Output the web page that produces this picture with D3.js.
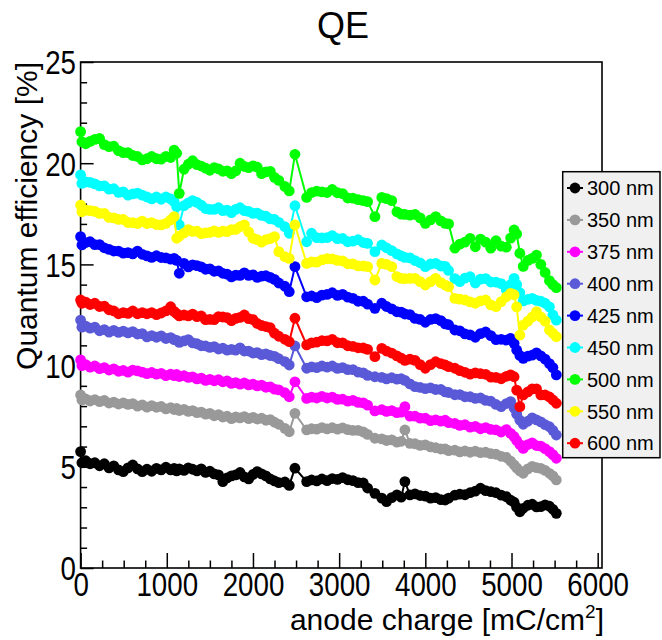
<!DOCTYPE html>
<html>
<head>
<meta charset="utf-8">
<script src="https://cdn.jsdelivr.net/npm/d3@7"></script>
<style>
  html, body { margin: 0; padding: 0; background: #fff; }
  svg text { font-family: "Liberation Sans", Arial, Helvetica, sans-serif; fill: #000; }
</style>
</head>
<body>
<svg id="chart" width="662" height="640"></svg>
<script>
// Quantum efficiency versus integrated anode charge, one series per wavelength.
const wavelengths = ["300 nm", "350 nm", "375 nm", "400 nm", "425 nm", "450 nm", "500 nm", "550 nm", "600 nm"];
const colors = ["#000000", "#999999", "#ff00ff", "#5a5ad8", "#0000ff", "#00ffff", "#00ff00", "#ffff00", "#ff0000"];

// anode charge (mC/cm^2) at each measurement
const charge = [0, 15, 60, 110, 165, 220, 275, 330, 385, 440,
  495, 550, 605, 660, 715, 770, 825, 880, 935, 990,
  1045, 1085, 1115, 1145, 1200, 1250, 1300, 1350, 1400, 1450,
  1500, 1550, 1600, 1650, 1700, 1750, 1800, 1850, 1900, 1950,
  2000, 2050, 2100, 2150, 2200, 2250, 2300, 2370, 2421, 2487,
  2623, 2680, 2740, 2800, 2860, 2920, 2980, 3040, 3100, 3160,
  3220, 3280, 3330, 3415, 3495, 3550, 3610, 3670, 3720, 3763,
  3821, 3880, 3940, 4000, 4060, 4120, 4180, 4230, 4270, 4343,
  4400, 4460, 4520, 4580, 4640, 4700, 4760, 4820, 4880, 4940,
  4990, 5030, 5060, 5097, 5136, 5190, 5240, 5290, 5340, 5390,
  5440, 5480, 5520];

// quantum efficiency (%) per wavelength
const qe300 = [5.75, 5.2, 5.3, 5.15, 5.2, 5.05, 5.15, 4.95, 5.05, 4.85,
  4.76, 4.95, 5.09, 4.9, 4.76, 4.88, 4.78, 4.92, 4.85, 4.98,
  4.85, 4.92, 4.8, 4.9, 4.82, 4.95, 4.88, 4.8, 4.9, 4.72,
  4.78, 4.65, 4.6, 4.27, 4.45, 4.55, 4.6, 4.72, 4.5, 4.4,
  4.62, 4.76, 4.65, 4.55, 4.4, 4.3, 4.22, 4.25, 4.08, 4.93,
  4.27, 4.35, 4.3, 4.4, 4.32, 4.42, 4.38, 4.47, 4.36, 4.32,
  4.22, 4.2, 3.95, 3.69, 3.45, 3.28, 3.48, 3.61, 3.5, 4.27,
  3.61, 3.66, 3.58, 3.55, 3.45, 3.48, 3.38, 3.36, 3.45, 3.6,
  3.65, 3.62, 3.72, 3.8, 3.94, 3.82, 3.77, 3.72, 3.6, 3.52,
  3.35, 3.25, 3.0, 2.78, 2.95, 3.1, 3.15, 3.02, 3.03, 3.12,
  3.05, 2.9, 2.7];
const qe350 = [8.55, 8.3, 8.35, 8.25, 8.32, 8.22, 8.28, 8.15, 8.2, 8.1,
  8.16, 8.08, 8.12, 8.0, 8.06, 7.95, 8.02, 7.94, 7.98, 7.86,
  7.92, 7.83, 7.88, 7.78, 7.84, 7.74, 7.78, 7.68, 7.7, 7.6,
  7.64, 7.52, 7.58, 7.46, 7.5, 7.38, 7.46, 7.42, 7.48, 7.38,
  7.44, 7.36, 7.4, 7.3, 7.33, 7.2, 7.1, 6.9, 6.73, 7.64,
  6.82, 6.88, 6.86, 6.94, 6.87, 6.93, 6.86, 6.92, 6.84, 6.8,
  6.8, 6.72, 6.6, 6.41, 6.38, 6.3, 6.33, 6.22, 6.26, 6.82,
  6.16, 6.14, 6.06, 6.08, 5.98, 5.94, 5.88, 5.88, 5.8, 5.82,
  5.74, 5.78, 5.72, 5.77, 5.7, 5.72, 5.65, 5.62, 5.52, 5.46,
  5.28, 5.1, 4.95, 4.8, 4.68, 4.9, 5.02, 4.96, 4.92, 4.82,
  4.68, 4.55, 4.35];
const qe375 = [10.28, 10.0, 10.05, 9.92, 9.98, 9.85, 9.9, 9.78, 9.84, 9.72,
  9.76, 9.68, 9.78, 9.74, 9.68, 9.6, 9.66, 9.58, 9.62, 9.5,
  9.58, 9.5, 9.56, 9.46, 9.5, 9.42, 9.44, 9.34, 9.38, 9.27,
  9.32, 9.25, 9.3, 9.2, 9.24, 9.12, 9.16, 9.08, 9.14, 9.05,
  9.08, 9.0, 9.04, 8.93, 8.95, 8.84, 8.8, 8.66, 8.46, 9.2,
  8.38, 8.44, 8.4, 8.48, 8.4, 8.44, 8.33, 8.34, 8.24, 8.28,
  8.18, 8.16, 8.05, 7.76, 7.82, 7.74, 7.78, 7.68, 7.7, 7.97,
  7.5, 7.5, 7.4, 7.4, 7.28, 7.32, 7.26, 7.3, 7.18, 7.14,
  7.05, 7.08, 6.96, 7.0, 6.88, 6.94, 6.85, 6.82, 6.72, 6.84,
  6.65, 6.49, 6.3, 6.1, 5.91, 6.1, 6.18, 6.05, 6.02, 5.9,
  5.75, 5.6, 5.42];
const qe400 = [12.25, 11.9, 11.95, 11.85, 11.9, 11.72, 11.78, 11.65, 11.74, 11.64,
  11.7, 11.62, 11.68, 11.56, 11.58, 11.42, 11.48, 11.4, 11.47, 11.34,
  11.38, 11.28, 11.25, 11.15, 11.22, 11.28, 11.12, 11.08, 10.98, 10.97,
  10.9, 10.94, 10.82, 10.86, 10.76, 10.8, 10.76, 10.88, 10.72, 10.72,
  10.62, 10.64, 10.54, 10.58, 10.5, 10.46, 10.34, 10.2, 10.03, 10.97,
  9.87, 9.94, 9.9, 9.98, 9.92, 9.98, 9.86, 9.9, 9.8, 9.8,
  9.68, 9.64, 9.52, 9.45, 9.42, 9.34, 9.4, 9.33, 9.35, 9.27,
  9.1, 8.96, 8.92, 8.86, 8.9, 8.82, 8.82, 8.7, 8.67, 8.56,
  8.57, 8.46, 8.46, 8.38, 8.4, 8.28, 8.24, 8.08, 7.97, 8.12,
  8.22, 7.9, 7.6, 7.3, 7.1, 7.25, 7.42, 7.32, 7.22, 7.08,
  6.98, 6.8, 6.57];
const qe425 = [16.37, 15.96, 16.08, 16.12, 15.98, 15.98, 15.82, 15.74, 15.66, 15.66,
  15.56, 15.58, 15.52, 15.66, 15.5, 15.42, 15.35, 15.43, 15.34, 15.32,
  15.26, 15.3, 15.2, 14.56, 15.05, 14.88, 14.98, 14.94, 14.88, 14.76,
  14.78, 14.66, 14.68, 14.56, 14.52, 14.38, 14.47, 14.46, 14.58, 14.46,
  14.48, 14.36, 14.42, 14.44, 14.36, 14.26, 14.08, 13.92, 13.65, 14.89,
  13.4, 13.44, 13.36, 13.48, 13.52, 13.6, 13.47, 13.52, 13.38, 13.32,
  13.18, 13.18, 13.04, 12.83, 13.08, 12.92, 12.8, 12.66, 12.64, 12.55,
  12.52, 12.33, 12.28, 12.14, 12.28, 12.32, 12.22, 12.06, 12.02, 11.76,
  11.72, 11.57, 11.52, 11.4, 11.58, 11.66, 11.48, 11.28, 11.3, 11.26,
  11.35, 11.1, 10.77, 10.5, 10.36, 10.47, 10.52, 10.63, 10.48, 10.32,
  10.1, 9.9, 9.54];
const qe450 = [19.42, 19.0, 19.08, 19.05, 18.98, 18.88, 18.88, 18.72, 18.74, 18.56,
  18.58, 18.42, 18.48, 18.52, 18.42, 18.33, 18.24, 18.33, 18.22, 18.33,
  18.24, 18.1, 17.85, 16.95, 17.9, 18.04, 18.15, 18.06, 17.93, 17.76,
  17.72, 17.72, 17.8, 17.66, 17.68, 17.56, 17.72, 17.8, 17.66, 17.62,
  17.52, 17.53, 17.42, 17.38, 17.25, 17.22, 17.08, 16.86, 16.54, 17.9,
  16.12, 16.54, 16.32, 16.31, 16.32, 16.42, 16.27, 16.28, 16.12, 16.15,
  16.22, 16.08, 16.04, 15.63, 15.96, 15.82, 15.68, 15.52, 15.42, 15.35,
  15.32, 15.19, 15.08, 14.89, 15.02, 15.05, 14.92, 14.9, 14.7, 14.3,
  14.15, 14.32, 14.39, 14.08, 14.27, 14.3, 14.13, 14.12, 14.05, 13.74,
  14.0, 14.31, 14.0, 13.6, 13.2, 13.27, 13.32, 13.22, 13.18, 13.08,
  12.9, 12.5, 12.25];
const qe500 = [21.56, 21.06, 20.96, 21.08, 21.18, 21.22, 20.92, 20.82, 20.84, 20.62,
  20.52, 20.52, 20.38, 20.33, 20.16, 20.22, 20.33, 20.22, 20.2, 20.34,
  20.28, 20.65, 20.49, 18.51, 19.7, 19.95, 20.12, 19.93, 19.86, 19.76,
  19.65, 19.78, 19.72, 19.6, 19.62, 19.48, 19.62, 20.0, 19.84, 19.78,
  19.87, 19.8, 19.48, 19.57, 19.6, 19.3, 19.15, 18.85, 18.63, 20.44,
  18.31, 18.55, 18.62, 18.58, 18.55, 18.7, 18.54, 18.5, 18.28, 18.27,
  18.2, 18.15, 18.1, 17.36, 18.31, 18.25, 18.15, 17.6, 17.48, 17.47,
  17.43, 17.47, 17.3, 17.03, 17.2, 17.36, 17.15, 17.03, 17.0, 15.8,
  16.0, 16.1, 16.29, 15.87, 16.25, 16.1, 15.8, 16.17, 15.9, 15.85,
  16.3, 16.7, 16.5, 15.55, 14.9, 15.2, 15.3, 15.46, 15.0, 14.6,
  14.2, 14.0, 13.85];
const qe550 = [17.93, 17.6, 17.68, 17.66, 17.62, 17.52, 17.52, 17.32, 17.3, 17.22,
  17.22, 17.07, 17.06, 17.02, 17.14, 17.02, 17.06, 16.97, 16.95, 17.03,
  17.2, 17.36, 16.29, 16.4, 16.55, 16.72, 16.63, 16.64, 16.52, 16.56,
  16.58, 16.65, 16.58, 16.64, 16.62, 16.72, 16.73, 16.86, 16.95, 16.6,
  16.29, 16.22, 16.1, 16.22, 16.27, 16.37, 15.63, 15.38, 15.3, 16.95,
  15.05, 15.12, 15.11, 15.22, 15.28, 15.27, 15.2, 15.17, 15.03, 15.02,
  14.93, 14.92, 14.89, 14.23, 15.05, 15.0, 14.89, 14.4, 14.31, 14.3,
  14.31, 14.31, 14.15, 13.98, 14.15, 14.31, 14.1, 13.98, 13.9, 13.32,
  13.28, 13.24, 13.15, 13.08, 13.2, 13.24, 13.0, 12.91, 13.16, 13.4,
  13.57, 13.5, 12.9, 11.51, 12.0, 12.2, 12.4, 12.66, 12.4, 12.2,
  11.76, 11.6, 11.43];
const qe600 = [13.24, 13.08, 13.14, 13.02, 13.08, 12.92, 12.94, 12.76, 12.7, 12.56,
  12.62, 12.58, 12.7, 12.56, 12.62, 12.56, 12.62, 12.52, 12.6, 12.7,
  12.91, 12.68, 12.57, 12.46, 12.5, 12.46, 12.54, 12.42, 12.45, 12.27,
  12.28, 12.27, 12.42, 12.4, 12.37, 12.22, 12.33, 12.38, 12.5, 12.32,
  12.27, 12.08, 11.98, 11.93, 11.87, 11.6, 11.45, 11.3, 11.18, 12.34,
  11.02, 11.12, 11.16, 11.23, 11.22, 11.3, 11.13, 11.12, 10.98, 10.95,
  10.88, 10.87, 10.8, 10.44, 10.85, 10.72, 10.62, 10.48, 10.37, 10.26,
  10.32, 10.26, 10.05, 9.87, 10.05, 10.19, 10.1, 10.03, 9.95, 9.87,
  9.75, 9.67, 9.58, 9.64, 9.6, 9.57, 9.43, 9.42, 9.35, 9.47,
  9.54, 9.45, 8.79, 7.97, 8.55, 8.7, 8.85, 8.85, 8.55, 8.55,
  8.45, 8.3, 8.14];

const seriesValues = [qe300, qe350, qe375, qe400, qe425, qe450, qe500, qe550, qe600];

const xMajorTicks = [0, 1000, 2000, 3000, 4000, 5000, 6000];
const yMajorTicks = [0, 5, 10, 15, 20, 25];

const svg = d3.select("#chart");
const frame = { left: 80.6, right: 602, top: 62, bottom: 568 };

const x = d3.scaleLinear().domain([0, 6050]).range([frame.left, frame.right]);
const y = d3.scaleLinear().domain([0, 25]).range([frame.bottom, frame.top]);

// frame
svg.append("rect")
  .attr("x", frame.left).attr("y", frame.top)
  .attr("width", frame.right - frame.left).attr("height", frame.bottom - frame.top)
  .attr("fill", "none").attr("stroke", "#000").attr("stroke-width", 1.6);

// axes: ticks point into the frame
const xMinor = d3.range(0, 6001, 250).filter(v => v % 1000 !== 0);
const yMinor = d3.range(0, 25.01, 1).filter(v => v % 5 !== 0);

const gx = svg.append("g").attr("transform", `translate(0,${frame.bottom})`);
gx.call(d3.axisBottom(x).tickValues(xMajorTicks).tickSize(-15).tickPadding(5).tickFormat(d3.format("d")));
gx.append("g").call(d3.axisBottom(x).tickValues(xMinor).tickSize(-7.5).tickFormat(""));
const gy = svg.append("g").attr("transform", `translate(${frame.left},0)`);
gy.call(d3.axisLeft(y).tickValues(yMajorTicks).tickSize(-13).tickPadding(5.5).tickFormat(d3.format("d")));
gy.append("g").call(d3.axisLeft(y).tickValues(yMinor).tickSize(-6.5).tickFormat(""));

svg.selectAll(".domain").remove();
svg.selectAll(".tick line").attr("stroke", "#000").attr("stroke-width", 1.5);
// narrow, tall tick labels
gx.selectAll(".tick text").attr("font-size", 33).attr("dy", "0.71em").attr("transform", "scale(0.84,1)");
gy.selectAll(".tick text").attr("font-size", 33).attr("dy", "0.36em").attr("transform", "scale(0.84,1)");

// series: connecting line plus filled circle markers
const line = d3.line().x(d => x(d[0])).y(d => y(d[1]));
seriesValues.forEach((vals, i) => {
  const pts = charge.map((c, k) => [c, vals[k]]);
  const g = svg.append("g");
  g.append("path").datum(pts).attr("d", line)
    .attr("fill", "none").attr("stroke", colors[i]).attr("stroke-width", 2);
  g.selectAll("circle").data(pts).join("circle")
    .attr("cx", d => x(d[0])).attr("cy", d => y(d[1])).attr("r", 5.4)
    .attr("fill", colors[i]);
});

// titles
svg.append("text").attr("x", 343).attr("y", 38).attr("text-anchor", "middle")
  .attr("font-size", 36).text("QE");

const xt = svg.append("text").attr("x", 604).attr("y", 630).attr("text-anchor", "end").attr("font-size", 30);
xt.append("tspan").text("anode charge [mC/cm");
xt.append("tspan").attr("font-size", 19).attr("dy", -12).text("2");
xt.append("tspan").attr("dy", 12).text("]");

svg.append("text").attr("transform", "translate(37,62) rotate(-90)")
  .attr("text-anchor", "end").attr("font-size", 30).text("Quantum efficiency [%]");

// legend
const leg = svg.append("g");
leg.append("rect").attr("x", 562.7).attr("y", 171.7).attr("width", 97.3).attr("height", 286)
  .attr("fill", "#f0f0f0").attr("stroke", "#000").attr("stroke-width", 1.5);
wavelengths.forEach((w, i) => {
  const cy = 188 + i * 31.9;
  leg.append("line").attr("x1", 567).attr("x2", 583).attr("y1", cy).attr("y2", cy)
    .attr("stroke", colors[i]).attr("stroke-width", 2);
  leg.append("circle").attr("cx", 575).attr("cy", cy).attr("r", 5.4).attr("fill", colors[i]);
  leg.append("text").attr("x", 587).attr("y", cy).attr("dy", "0.36em").attr("font-size", 20).text(w);
});
</script>
</body>
</html>
